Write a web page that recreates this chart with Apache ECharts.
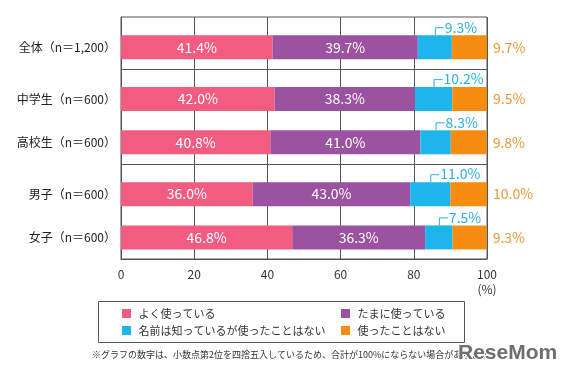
<!DOCTYPE html>
<html>
<head>
<meta charset="utf-8">
<script src="https://cdn.jsdelivr.net/npm/echarts@6/dist/echarts.min.js"></script>
<style>
    html, body { margin: 0; padding: 0; background: #fff; }
    #main { width: 570px; height: 376px; }
</style>
</head>
<body>
<div id="main"></div>
<script>
// 行ラベル
var categories = ['全体（n＝1,200）', '中学生（n＝600）', '高校生（n＝600）', '男子（n＝600）', '女子（n＝600）'];
var seriesNames = ['よく使っている', 'たまに使っている', '名前は知っているが使ったことはない', '使ったことはない'];
var often = [41.4, 42.0, 40.8, 36.0, 46.8];
var sometimes = [39.7, 38.3, 41.0, 43.0, 36.3];
var knowOnly = [9.3, 10.2, 8.3, 11.0, 7.5];
var never = [9.7, 9.5, 9.8, 10.0, 9.3];
var xTicks = [0, 20, 40, 60, 80, 100];

var colors = ['#f25c80', '#9a52a1', '#1db5ea', '#f78d10'];
var font = '"Noto Sans CJK JP", sans-serif';

// 行の位置（グループ間をあけるため細かいスロットに配置）
var slotCount = 28;
var rowSlots = [3, 9, 14, 20, 25];
var groupLines = [6, 17];

function toSlots(arr, blank) {
    var out = [];
    for (var i = 0; i < slotCount; i++) out.push(blank);
    rowSlots.forEach(function (s, k) { out[s] = arr[k]; });
    return out;
}

var chart = echarts.init(document.getElementById('main'));

function barSeries(name, data, color, label) {
    return {
        name: name,
        type: 'bar',
        stack: 'total',
        barWidth: 24,
        data: toSlots(data, '-'),
        itemStyle: { color: color },
        label: label
    };
}

var insideLabel = {
    show: true,
    position: 'inside',
    color: '#fff',
    fontSize: 14,
    fontFamily: font,
    formatter: function (p) { return p.value.toFixed(1) + '%'; }
};

// 水色ラベル用（バー中央から引き出し線）
var knowLabelData = rowSlots.map(function (s, k) {
    return [often[k] + sometimes[k] + knowOnly[k] / 2, s, knowOnly[k]];
});

function legendBox(left, names) {
    return {
        left: left, top: 307, orient: 'vertical', padding: 0,
        itemWidth: 9, itemHeight: 9, itemGap: 4, icon: 'rect',
        data: names,
        formatter: function (n) { return ' ' + n; },
        textStyle: { fontSize: 11, color: '#333', lineHeight: 13 }
    };
}

var option = {
    animation: false,
    textStyle: { fontFamily: font },
    grid: {
        left: 121,
        right: 83,
        top: 17,
        bottom: 117,
        show: true,
        borderColor: '#555',
        borderWidth: 1
    },
    xAxis: {
        type: 'value',
        min: 0,
        max: 100,
        interval: 20,
        axisLine: { show: true, lineStyle: { color: '#555' } },
        axisTick: { show: false },
        splitLine: { show: true, lineStyle: { color: '#555', width: 1 } },
        axisLabel: {
            color: '#333',
            fontSize: 12,
            margin: 8,
            lineHeight: 15,
            formatter: function (v) {
                if (xTicks.indexOf(v) < 0) return '';
                return v === 100 ? '100\n(%)' : String(v);
            }
        }
    },
    yAxis: {
        type: 'category',
        inverse: true,
        data: toSlots(categories, ''),
        axisLine: { show: true, lineStyle: { color: '#555' } },
        axisTick: { show: false },
        splitLine: {
            show: true,
            interval: function (i) { return groupLines.indexOf(i) >= 0; },
            lineStyle: { color: '#555', width: 1 }
        },
        axisLabel: { interval: 0, color: '#222', fontSize: 12, margin: 5 }
    },
    legend: [
        legendBox(122, [seriesNames[0], seriesNames[2]]),
        legendBox(341, [seriesNames[1], seriesNames[3]])
    ],
    graphic: [
        {
            type: 'rect',
            shape: { x: 98.5, y: 301.5, width: 366, height: 41 },
            style: { fill: 'none', stroke: '#555', lineWidth: 1 }
        },
        {
            type: 'text',
            x: 92, y: 355,
            style: {
                text: '※グラフの数字は、小数点第2位を四捨五入しているため、合計が100%にならない場合があります。',
                fontSize: 9, fill: '#333', fontFamily: font, verticalAlign: 'middle'
            }
        },
        {
            type: 'text',
            x: 458, y: 353,
            style: {
                text: 'ReseMom',
                fontSize: 21, fontWeight: 'bold', fill: '#6e6e6e',
                fontFamily: '"Liberation Sans", sans-serif', verticalAlign: 'middle',
                stroke: '#fff', lineWidth: 2
            }
        }
    ],
    series: [
        barSeries(seriesNames[0], often, colors[0], insideLabel),
        barSeries(seriesNames[1], sometimes, colors[1], insideLabel),
        barSeries(seriesNames[2], knowOnly, colors[2], { show: false }),
        barSeries(seriesNames[3], never, colors[3], {
            show: true,
            position: 'right',
            distance: 6,
            color: '#eb993b',
            fontSize: 14,
            fontFamily: font,
            formatter: function (p) { return p.value.toFixed(1) + '%'; }
        }),
        {
            type: 'custom',
            name: 'knowLabel',
            data: knowLabelData,
            encode: { x: 0, y: 1 },
            clip: false,
            z: 5,
            renderItem: function (params, api) {
                var p = api.coord([api.value(0), api.value(1)]);
                var top = p[1] - 12;
                var bend = top - 8;
                return {
                    type: 'group',
                    children: [
                        {
                            type: 'polyline',
                            shape: { points: [[p[0] + 0.5, top], [p[0] + 0.5, bend + 0.5], [p[0] + 9, bend + 0.5]] },
                            style: { stroke: '#2aaee6', lineWidth: 1, fill: 'none' }
                        },
                        {
                            type: 'text',
                            x: p[0] + 10,
                            y: bend,
                            style: {
                                text: api.value(2).toFixed(1) + '%',
                                fill: '#2aaee6',
                                fontSize: 14,
                                fontFamily: font,
                                verticalAlign: 'middle'
                            }
                        }
                    ]
                };
            }
        }
    ]
};

chart.setOption(option);
</script>
</body>
</html>
